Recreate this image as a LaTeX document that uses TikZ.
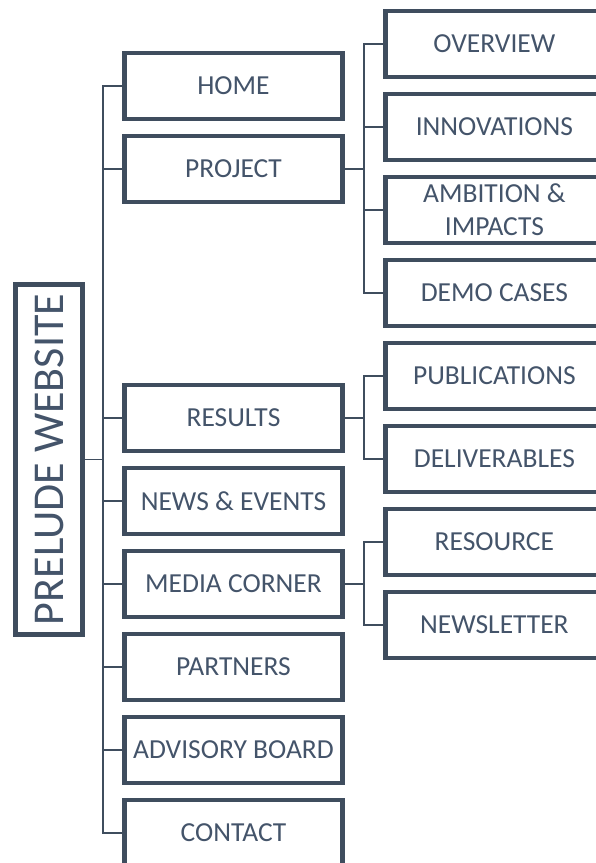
\documentclass[tikz,border=0pt]{standalone}
\usepackage{fontspec}
\setmainfont{Carlito}
\definecolor{slate}{HTML}{3F4D5E}
\definecolor{slatetext}{HTML}{44546A}
\tikzset{
	page/.style={draw=slate, line width=4.7pt, minimum width=218pt, minimum height=66pt, inner sep=0pt, text=slatetext, font=\fontsize{27.5}{33}\selectfont, align=center},
	link/.style={draw=slate, line width=1.6pt},
}
\begin{document}
\begin{tikzpicture}[x=1pt, y=1pt]
		\useasboundingbox (0,0) rectangle (595,-863);
		% site root
		\node [page, minimum width=67.6pt, minimum height=350pt, font=\fontsize{44}{44}\selectfont] (site) at (49,-459.5) {\rotatebox{90}{PRELUDE WEBSITE}};
		% main menu
		\foreach \name/\y/\label in {home/86/HOME, project/169/PROJECT, results/418/RESULTS, news/501/NEWS \& EVENTS, media/584/MEDIA CORNER, partners/667/PARTNERS, advisory/750/ADVISORY BOARD, contact/833/CONTACT} {
			\node [page] (\name) at (233.5,-\y) {\label};
		};
		% sub pages
		\foreach \name/\y/\label in {overview/44/OVERVIEW, innovations/127/INNOVATIONS, ambition/210/{AMBITION \&\\IMPACTS}, demo/293/DEMO CASES, publications/376/PUBLICATIONS, deliverables/459/DELIVERABLES, resource/542/RESOURCE, newsletter/625/NEWSLETTER} {
			\node [page] (\name) at (494.4,-\y) {\label};
		};
		% trunk
		\coordinate (trunk) at (103,-459.5);
		\draw [link] (site.east) -- (trunk);
		\foreach \name in {home, project, results, news, media, partners, advisory, contact} {
			\draw [link] (trunk) |- (\name.west);
		};
		% branches
		\coordinate (projbus) at (364,-169);
		\coordinate (resbus) at (364,-418);
		\coordinate (mediabus) at (364,-584);
		\draw [link] (project.east) -- (projbus);
		\draw [link] (results.east) -- (resbus);
		\draw [link] (media.east) -- (mediabus);
		\foreach \name in {overview, innovations, ambition, demo} {
			\draw [link] (projbus) |- (\name.west);
		};
		\foreach \name in {publications, deliverables} {
			\draw [link] (resbus) |- (\name.west);
		};
		\foreach \name in {resource, newsletter} {
			\draw [link] (mediabus) |- (\name.west);
		};
	\end{tikzpicture}
\end{document}
